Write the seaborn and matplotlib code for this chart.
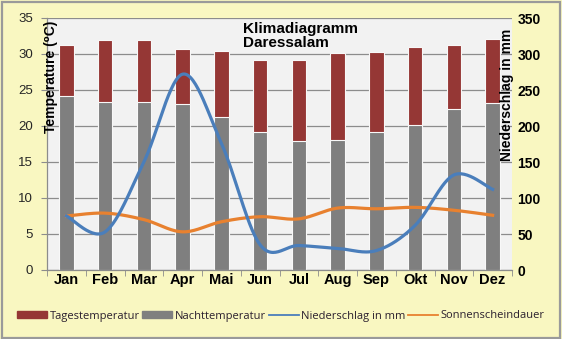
import numpy as np
import pandas as pd
import matplotlib
matplotlib.use("Agg")
import matplotlib.pyplot as plt
import seaborn as sns
from matplotlib.patches import Patch, Rectangle
from matplotlib.lines import Line2D

months = ["Jan", "Feb", "Mar", "Apr", "Mai", "Jun", "Jul", "Aug", "Sep", "Okt", "Nov", "Dez"]
tages = [31.2, 32.0, 31.9, 30.7, 30.4, 29.1, 29.1, 30.2, 30.3, 31.0, 31.2, 32.1]
nacht = [24.1, 23.3, 23.3, 23.1, 21.3, 19.2, 17.9, 18.1, 19.1, 20.2, 22.3, 23.2]
niederschlag = [75, 53, 150, 272, 176, 35, 34, 30, 27, 62, 132, 112]
sonne = [7.5, 7.9, 7.0, 5.3, 6.7, 7.4, 7.1, 8.6, 8.5, 8.7, 8.3, 7.6]
left_ticks = [0, 5, 10, 15, 20, 25, 30, 35]
right_ticks = [0, 50, 100, 150, 200, 250, 300, 350]

C_TAG = "#953735"
C_NACHT = "#7f7f7f"
C_RAIN = "#4a7ebb"
C_SUN = "#e8812f"
BG = "#f9f7c1"

plt.rcParams["font.family"] = ["Liberation Sans", "DejaVu Sans"]


def smooth(vals, n=30):
    """Catmull-Rom smoothing (like Excel's smoothed line) through the given values."""
    p = np.asarray(vals, dtype=float)
    x = np.arange(len(p), dtype=float)
    pp = np.concatenate([[p[0]], p, [p[-1]]])
    xp = np.concatenate([[x[0]], x, [x[-1]]])
    xs, ys = [], []
    for i in range(len(p) - 1):
        t = np.linspace(0, 1, n, endpoint=(i == len(p) - 2))
        for arr, out in ((xp, xs), (pp, ys)):
            P0, P1, P2, P3 = arr[i], arr[i + 1], arr[i + 2], arr[i + 3]
            out.extend(0.5 * ((2 * P1) + (-P0 + P2) * t
                              + (2 * P0 - 5 * P1 + 4 * P2 - P3) * t ** 2
                              + (-P0 + 3 * P1 - 3 * P2 + P3) * t ** 3))
    return np.array(xs), np.array(ys)


df = pd.DataFrame({"Monat": months, "Tag": tages, "Nacht": nacht})

fig = plt.figure(figsize=(5.62, 3.39), dpi=100, facecolor=BG)
fig.patches.append(Rectangle((0.004, 0.004), 0.992, 0.990, transform=fig.transFigure,
                             fill=False, edgecolor="#9a9a9a", linewidth=1.6))

ax = fig.add_axes([47 / 562, 1 - 270 / 339, 465 / 562, 252 / 339])
ax.set_facecolor("#f2f2f2")

sns.barplot(data=df, x="Monat", y="Tag", color=C_TAG, saturation=1, width=0.38,
            edgecolor="#f8f8f8", linewidth=0.8, ax=ax, zorder=2)
sns.barplot(data=df, x="Monat", y="Nacht", color=C_NACHT, saturation=1, width=0.38,
            edgecolor="#f8f8f8", linewidth=0.8, ax=ax, zorder=2)

sx, sy = smooth(sonne)
sns.lineplot(x=sx, y=sy, sort=False, estimator=None, color=C_SUN, linewidth=2.3, ax=ax, zorder=4)

ax.set_ylim(0, 35)
ax.set_xlim(-0.5, 11.5)
ax.set_yticks(left_ticks)
ax.set_xlabel("")
ax.set_ylabel("")
ax.yaxis.grid(True, color="#8c8c8c", linewidth=0.9)
ax.set_axisbelow(True)
for s in ["top", "right"]:
    ax.spines[s].set_visible(False)
for s in ["left", "bottom"]:
    ax.spines[s].set_color("#8c8c8c")
    ax.spines[s].set_linewidth(0.9)
ax.tick_params(axis="y", length=4, color="#8c8c8c", pad=6, labelsize=9.5, labelcolor="#262626")
ax.set_xticks(range(len(months)))
ax.set_xticklabels(months, fontsize=10.5, fontweight="bold")
ax.tick_params(axis="x", which="major", length=0, pad=2)
ax.set_xticks(np.arange(-0.5, 12, 1), minor=True)
ax.tick_params(axis="x", which="minor", length=4, color="#8c8c8c")

ax2 = ax.twinx()
ax2.set_ylim(0, 350)
ax2.set_yticks(right_ticks)
rx, ry = smooth(niederschlag)
sns.lineplot(x=rx, y=ry, sort=False, estimator=None, color=C_RAIN, linewidth=2.3, ax=ax2, zorder=3)
ax2.set_ylabel("")
for s in ax2.spines.values():
    s.set_visible(False)
ax2.tick_params(axis="y", length=0, pad=4, labelsize=10)
for lab in ax2.get_yticklabels():
    lab.set_fontweight("bold")

ax2.text(0.0086, 0.766, "Temperature (\u2070C)", transform=ax2.transAxes, rotation=90,
         ha="center", va="center", fontsize=10, fontweight="bold", zorder=6)
ax2.text(0.989, 0.694, "Niederschlag in mm", transform=ax2.transAxes, rotation=90,
         ha="center", va="center", fontsize=10, fontweight="bold", zorder=6)
ax2.text(0.4215, 0.985, "Klimadiagramm\nDaressalam", transform=ax2.transAxes,
         ha="left", va="top", fontsize=11, fontweight="bold", linespacing=1.05, zorder=6)

handles = [Patch(facecolor=C_TAG, edgecolor=C_TAG),
           Patch(facecolor=C_NACHT, edgecolor=C_NACHT),
           Line2D([], [], color=C_RAIN, linewidth=1.3),
           Line2D([], [], color=C_SUN, linewidth=1.3)]
labels = ["Tagestemperatur", "Nachttemperatur", "Niederschlag in mm", "Sonnenscheindauer"]
fig.legend(handles, labels, loc="center", bbox_to_anchor=(0.5, 1 - 316 / 339), ncol=4,
           frameon=False, handlelength=2.7, handleheight=0.55,
           handletextpad=0.25, columnspacing=0.2, labelcolor="#2a1f2e",
           prop={"family": ["Open Sans", "DejaVu Sans"], "size": 8})

fig.savefig("out.png", dpi=100, facecolor=BG)
